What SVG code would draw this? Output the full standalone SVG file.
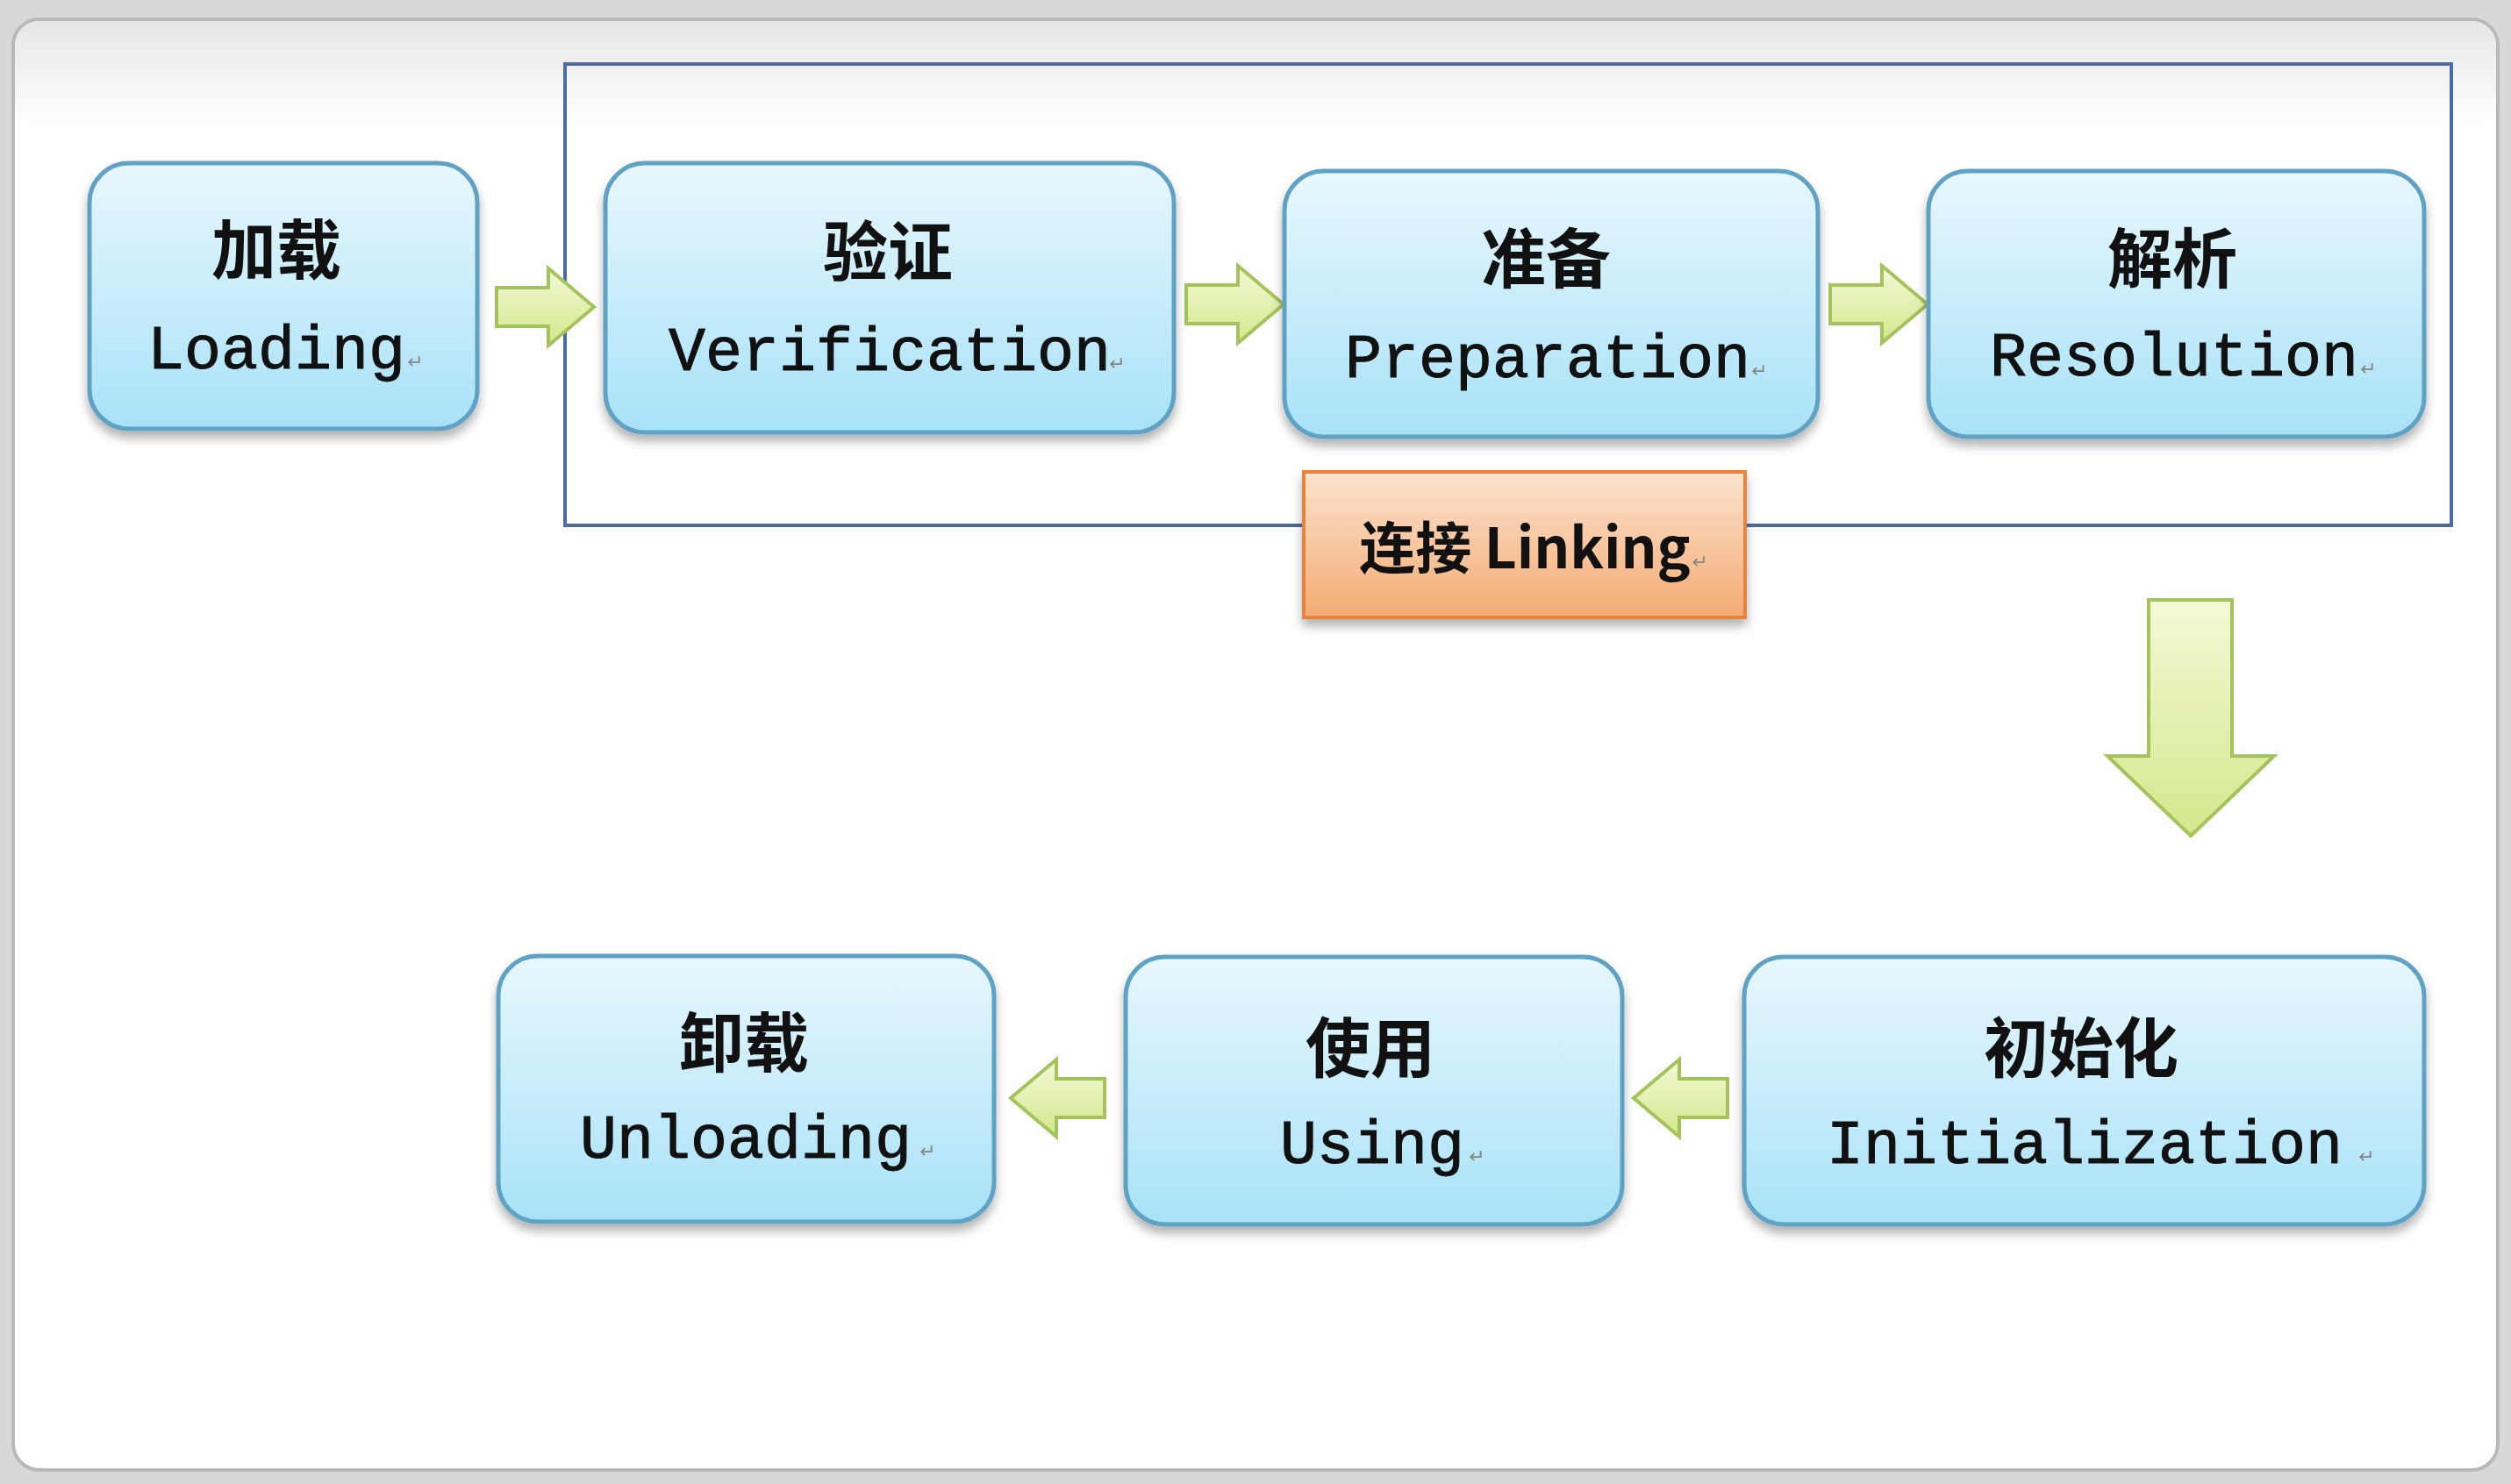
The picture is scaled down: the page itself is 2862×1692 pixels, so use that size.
<svg xmlns="http://www.w3.org/2000/svg" width="2862" height="1692" viewBox="0 0 2862 1692">
<defs>
<linearGradient id="bg" x1="0" y1="0" x2="0" y2="1"><stop offset="0" stop-color="#e6e6e6"/><stop offset="1" stop-color="#ffffff"/></linearGradient>
<linearGradient id="blue" x1="0" y1="0" x2="0" y2="1"><stop offset="0" stop-color="#e8f7fd"/><stop offset="1" stop-color="#a8e2f8"/></linearGradient>
<linearGradient id="orange" x1="0" y1="0" x2="0" y2="1"><stop offset="0" stop-color="#fbe3cf"/><stop offset="1" stop-color="#f5ab72"/></linearGradient>
<linearGradient id="green" x1="0" y1="0" x2="0" y2="1"><stop offset="0" stop-color="#f4f9d6"/><stop offset="1" stop-color="#d2e88c"/></linearGradient>
<filter id="sh" x="-10%" y="-10%" width="120%" height="130%"><feDropShadow dx="0" dy="8" stdDeviation="6" flood-color="#000" flood-opacity="0.3"/></filter>
</defs>
<style>
.node{fill:url(#blue);stroke:#5fa2c3;stroke-width:5;filter:url(#sh)}
.cn{font-family:"Noto Sans CJK SC",sans-serif;font-size:74px;font-weight:bold;text-anchor:middle;fill:#111}
.en{font-family:"Liberation Mono",monospace;font-size:70px;text-anchor:middle;fill:#111;stroke:#111;stroke-width:1}
.rm{font-family:"DejaVu Sans",sans-serif;font-size:22px;fill:#888}
.arr{fill:url(#green);stroke:#a4c35a;stroke-width:4}
</style>
<rect x="0" y="0" width="2862" height="1692" fill="#d8d8d8"/>
<rect x="15" y="22" width="2832" height="1654" rx="30" fill="#ffffff" stroke="#b8b8b8" stroke-width="4"/>
<rect x="17" y="24" width="2828" height="120" rx="28" fill="url(#bg)"/>
<rect x="644" y="73" width="2150" height="526" fill="none" stroke="#4a6aa8" stroke-width="4"/>
<g id="connectors">
<path class="arr" d="M566,328 H625 V306 L677,350 L625,394 V372 H566 Z"/>
<path class="arr" d="M1352,325 H1411 V303 L1463,347 L1411,391 V369 H1352 Z"/>
<path class="arr" d="M2086,325 H2145 V303 L2197,347 L2145,391 V369 H2086 Z"/>
<path class="arr" d="M2449,684 H2544 V862 H2592 L2497,953 L2402,862 H2449 Z"/>
<path class="arr" d="M1259,1230 H1204 V1208 L1152,1252 L1204,1296 V1274 H1259 Z"/>
<path class="arr" d="M1969,1230 H1914 V1208 L1862,1252 L1914,1296 V1274 H1969 Z"/>
</g>
<g id="loading"><rect class="node" x="102" y="186" width="442" height="303" rx="45"/><text class="cn" x="315" y="312">加载</text><text class="en" x="315" y="420">Loading</text><text class="rm" x="464" y="420">↵</text></g>
<g id="verification"><rect class="node" x="690" y="186" width="648" height="307" rx="45"/><text class="cn" x="1012" y="314">验证</text><text class="en" x="1014" y="422">Verification</text><text class="rm" x="1264" y="422">↵</text></g>
<g id="preparation"><rect class="node" x="1464" y="195" width="608" height="303" rx="45"/><text class="cn" x="1762" y="322">准备</text><text class="en" x="1764" y="430">Preparation</text><text class="rm" x="1996" y="430">↵</text></g>
<g id="resolution"><rect class="node" x="2198" y="195" width="565" height="303" rx="45"/><text class="cn" x="2476" y="322">解析</text><text class="en" x="2478" y="428">Resolution</text><text class="rm" x="2690" y="428">↵</text></g>
<g id="linking"><rect x="1486" y="538" width="503" height="166" fill="url(#orange)" stroke="#e8843c" stroke-width="4" filter="url(#sh)"/><text x="1738" y="648" font-family="Noto Sans CJK SC,sans-serif" font-size="64" font-weight="bold" text-anchor="middle" fill="#111">连接 Linking</text><text class="rm" x="1928" y="648">↵</text></g>
<g id="unloading"><rect class="node" x="568" y="1090" width="565" height="303" rx="45"/><text class="cn" x="848" y="1216">卸载</text><text class="en" x="850" y="1320">Unloading</text><text class="rm" x="1048" y="1320">↵</text></g>
<g id="using"><rect class="node" x="1283" y="1091" width="566" height="305" rx="45"/><text class="cn" x="1562" y="1222">使用</text><text class="en" x="1564" y="1326">Using</text><text class="rm" x="1674" y="1326">↵</text></g>
<g id="initialization"><rect class="node" x="1988" y="1091" width="775" height="305" rx="45"/><text class="cn" x="2372" y="1222">初始化</text><text class="en" x="2376" y="1326">Initialization</text><text class="rm" x="2688" y="1326">↵</text></g>
</svg>
